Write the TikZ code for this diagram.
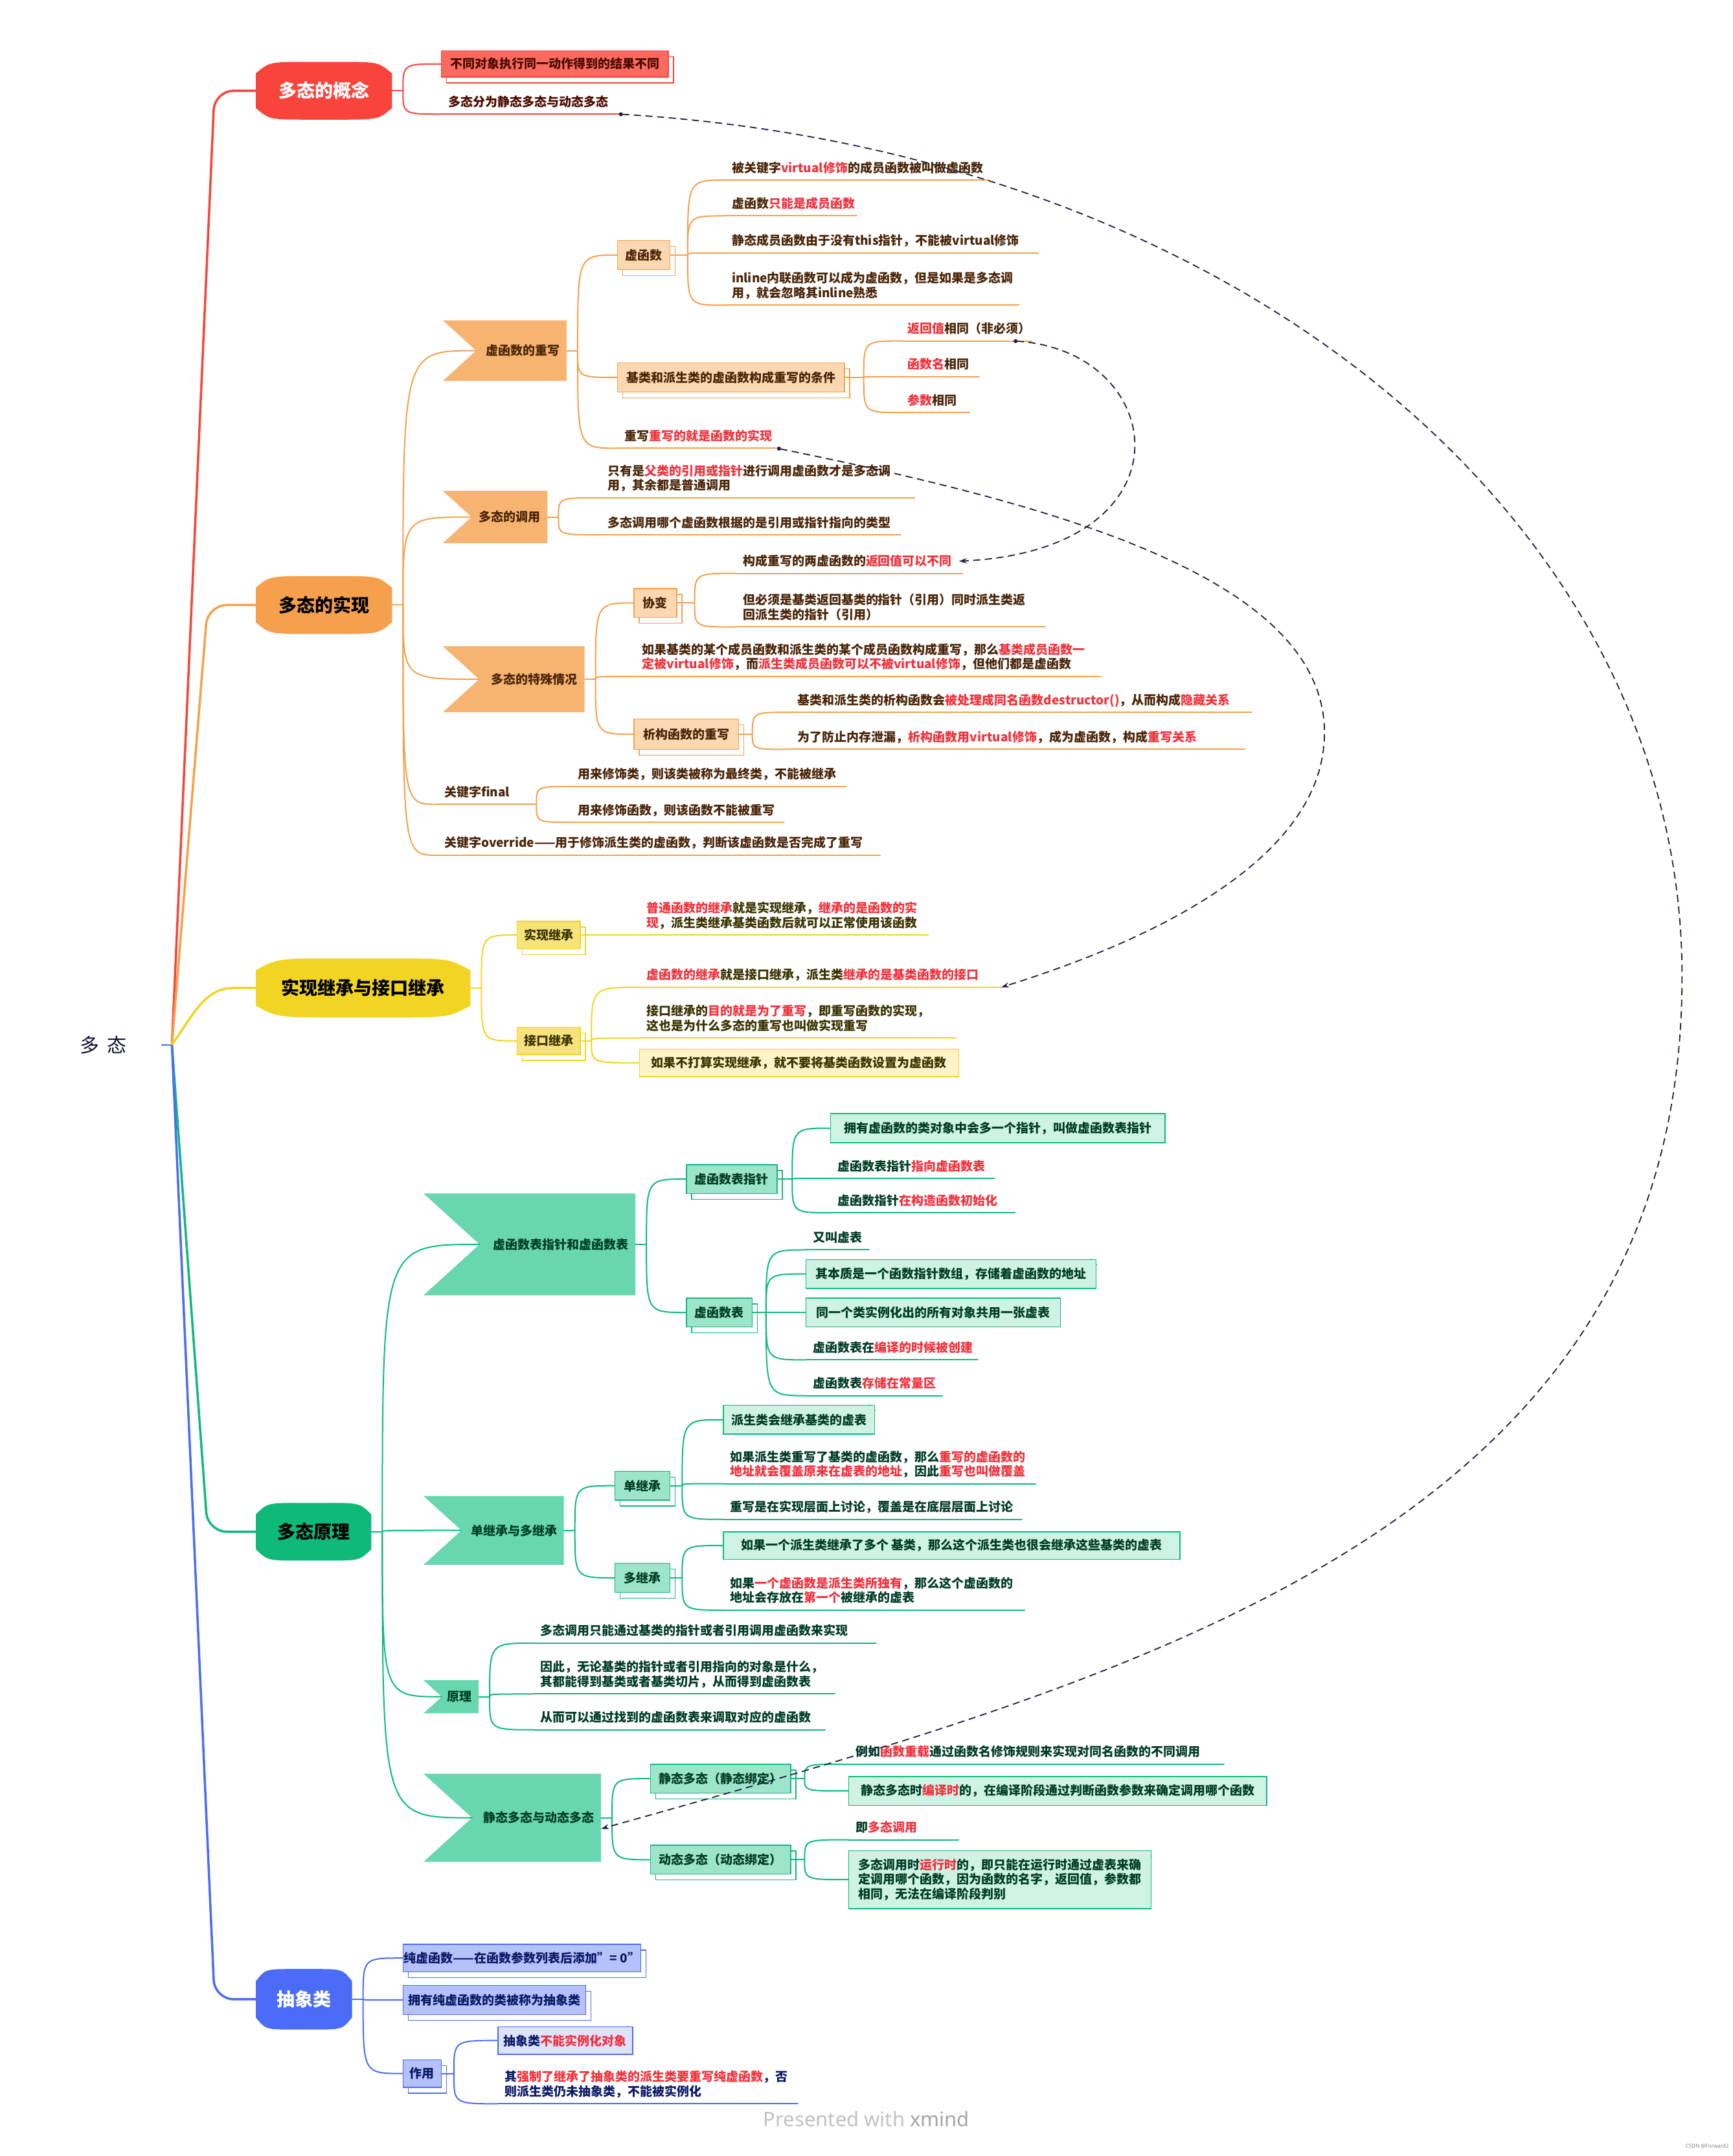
\documentclass[tikz,border=0pt]{standalone}
\usepackage{fontspec}
\setmainfont{Noto Sans CJK SC}
\newfontfamily\wmfont{Noto Sans}
\usetikzlibrary{calc,arrows.meta}
\newcommand\UU{2.1238pt}
\definecolor{cred}{HTML}{F9443B}
\definecolor{credl}{HTML}{FA6A60}
\definecolor{credt}{HTML}{4A0A00}
\definecolor{cora}{HTML}{F5A04C}
\definecolor{coraf}{HTML}{F6B470}
\definecolor{corab}{HTML}{FBD7B2}
\definecolor{corat}{HTML}{4A2508}
\definecolor{cyel}{HTML}{F2D422}
\definecolor{cyelb}{HTML}{F6E37C}
\definecolor{cyeln}{HTML}{FCF3C8}
\definecolor{cyelt}{HTML}{3B3300}
\definecolor{cgrn}{HTML}{0FB97A}
\definecolor{cgrnf}{HTML}{68D6AE}
\definecolor{cgrnb}{HTML}{9DE5CA}
\definecolor{cgrnn}{HTML}{CEF2E4}
\definecolor{cgrnt}{HTML}{003D26}
\definecolor{cblu}{HTML}{4A6CF7}
\definecolor{cblub}{HTML}{B4C1FB}
\definecolor{cblun}{HTML}{DDE3FD}
\definecolor{cblut}{HTML}{0B1A66}
\definecolor{hlred}{HTML}{F0323C}
\definecolor{cdash}{HTML}{1C2040}
\definecolor{croot}{HTML}{10122E}
\definecolor{cwm}{HTML}{C2C2C2}
\definecolor{cwmb}{HTML}{A5A5A5}
\newcommand\redt[1]{{\color{hlred}#1}}
\newcommand\cn[3]{\draw[ln=#1] (#2) .. controls (#2 |- #3) .. (#3);}
\tikzset{
 txt/.style={font=\fontsize{19}{22.5}\selectfont\bfseries},
 ut/.style={txt, anchor=south west, inner xsep=10.6pt, inner ysep=9pt, text depth=2.8pt, align=left},
 sub/.style n args={3}{txt, draw=#1, line width=1.5pt, fill=#2, text=#3, inner sep=0pt,
   preaction={draw=#1, line width=1.5pt, transform canvas={xshift=8pt,yshift=-9pt}}},
 fold/.style={append after command={\pgfextra{
   \fill[white] ($(\tikzlastnode.north east)+(-9pt,1pt)$) -- ($(\tikzlastnode.north east)+(1pt,1pt)$) -- ($(\tikzlastnode.north east)+(1pt,-9pt)$) -- cycle;
   \draw[#1, line width=1.2pt, line join=round] ($(\tikzlastnode.north east)+(-9pt,0pt)$) -- ($(\tikzlastnode.north east)+(-9pt,-9pt)$) -- ($(\tikzlastnode.north east)+(0pt,-9pt)$) -- cycle;}}},
 note/.style n args={3}{txt, draw=#1, line width=1.5pt, fill=#2, text=#3, inner sep=0pt, fold=#1},
 mainn/.style 2 args={font=\fontsize{28}{30}\selectfont\bfseries, text=#2, inner sep=0pt, fill=white,
   path picture={\fill[#1] let \p1=(path picture bounding box.north west), \p2=(path picture bounding box.south east), \n1={\x2-\x1}, \n2={\y1-\y2} in
   (\x1,{\y2+0.2*\n2}) -- (\x1,{\y1-0.2*\n2}) .. controls ({\x1+0.1*\n1},\y1) .. ({\x1+0.4*\n1},\y1) -- ({\x2-0.4*\n1},\y1) .. controls ({\x2-0.1*\n1},\y1) .. (\x2,{\y1-0.2*\n2}) -- (\x2,{\y2+0.2*\n2}) .. controls ({\x2-0.1*\n1},\y2) .. ({\x2-0.4*\n1},\y2) -- ({\x1+0.4*\n1},\y2) .. controls ({\x1+0.1*\n1},\y2) .. (\x1,{\y2+0.2*\n2}) -- cycle;}},
 flag/.style 2 args={txt, text=#2, inner sep=0pt, align=right, fill=white,
   path picture={\fill[#1] let \p1=(path picture bounding box.north west), \p2=(path picture bounding box.south east) in
   (\x1,\y1) -- (\x2,\y1) -- (\x2,\y2) -- (\x1,\y2) -- ({\x1+0.55*(\y1-\y2)},{0.5*(\y1+\y2)}) -- cycle;}},
 ln/.style={draw=#1, line width=2pt, line cap=round, line join=round},
 dashc/.style={draw=cdash, line width=1.8pt, dash pattern=on 11pt off 7pt},
}
\begin{document}
\begin{tikzpicture}[x=2.1238pt,y=-2.1238pt]
\fill[white] (0,0) rectangle (1260,1568);
\useasboundingbox (0,0) rectangle (1260,1568);

% ROOT
\node[font=\fontsize{30}{32}\selectfont, text=croot, minimum width=84*\UU, inner sep=0pt] (root) at (75,760) {多\hspace{12pt}态};
\coordinate (rt) at (125,760);

% ===== MAIN NODES =====
\node[mainn={cred}{white}, minimum width=99*\UU, minimum height=42*\UU] (c1) at (235.5,66) {多态的概念};
\node[mainn={cora}{black}, minimum width=99*\UU, minimum height=42*\UU] (c2) at (235.5,440) {多态的实现};
\node[mainn={cyel}{black}, minimum width=156*\UU, minimum height=43*\UU] (c3) at (264,718.5) {实现继承与接口继承};
\node[mainn={cgrn}{black}, minimum width=84*\UU, minimum height=42*\UU] (c4) at (228,1114) {多态原理};
\node[mainn={cblu}{white}, minimum width=70*\UU, minimum height=44*\UU] (c5) at (221,1454) {抽象类};

\draw[cblu, line width=2.5pt] (root.east) -- (rt);
\draw[cred, line width=3.5pt, rounded corners=30pt] (rt) -- (156,66) -- (c1.west);
\draw[cora, line width=3.5pt, rounded corners=30pt] (rt) -- (151,440) -- (c2.west);
\draw[cyel, line width=3.5pt] (rt) .. controls (142,735) and (150,718.5) .. (170,718.5) -- (c3.west);
\draw[cgrn, line width=3.5pt, rounded corners=30pt] (rt) -- (151,1114) -- (c4.west);
\draw[cblu, line width=3.5pt, rounded corners=30pt] (rt) -- (156,1454) -- (c5.west);

% ===== RED =====
\coordinate (f1) at (293,66);
\node[sub={cred}{credl}{credt}, minimum width=165*\UU, minimum height=19*\UU] (r1) at (403.5,46.5) {不同对象执行同一动作得到的结果不同};
\node[ut, text=credt] (r2) at (321,83) {多态分为静态多态与动态多态};
\coordinate (r2e) at ($(r2.south west)+(129,0)$);
\draw[ln=cred] (r2.south west) -- (r2e);
\draw[ln=cred] (c1.east) -- (f1);
\cn{cred}{f1}{r1.west}
\cn{cred}{f1}{r2.south west}

% ===== ORANGE =====
\coordinate (f2) at (293,440);
\node[flag={coraf}{corat}, minimum width=90*\UU, minimum height=44*\UU, text width=169.9pt] (o1) at (367,255) {虚函数的重写};
\coordinate (o1t) at ($(o1.west)+(24.2,0)$);
\node[flag={coraf}{corat}, minimum width=76*\UU, minimum height=38*\UU, text width=140.2pt] (o2) at (360,376) {多态的调用};
\coordinate (o2t) at ($(o2.west)+(20.9,0)$);
\node[flag={coraf}{corat}, minimum width=103*\UU, minimum height=48*\UU, text width=197.5pt] (o3) at (373.5,494) {多态的特殊情况};
\coordinate (o3t) at ($(o3.west)+(26.4,0)$);
\node[ut, text=corat] (o4) at (318,585) {关键字final};
\coordinate (f24) at ($(o4.south west)+(72,0)$);
\draw[ln=cora] (o4.south west) -- (f24);
\node[ut, text=corat] (o5) at (318,622) {关键字override——用于修饰派生类的虚函数，判断该虚函数是否完成了重写};
\draw[ln=cora] (o5.south west) -- ++(322,0);
\draw[ln=cora] (c2.east) -- (f2);
\cn{cora}{f2}{o1t}
\cn{cora}{f2}{o2t}
\cn{cora}{f2}{o3t}
\cn{cora}{f2}{o4.south west}
\cn{cora}{f2}{o5.south west}

% o1 children
\coordinate (f21) at (420,255);
\node[sub={cora}{corab}{corat}, minimum width=38*\UU, minimum height=21*\UU] (o11) at (468,185.5) {虚函数};
\node[sub={cora}{corab}{corat}, minimum width=165*\UU, minimum height=21*\UU] (o12) at (531.5,274.5) {基类和派生类的虚函数构成重写的条件};
\node[ut, text=corat] (o13) at (449,326) {重写\redt{重写的就是函数的实现}};
\coordinate (o13e) at ($(o13.south west)+(116,0)$);
\draw[ln=cora] (o13.south west) -- (o13e);
\draw[ln=cora] (o1.east) -- (f21);
\cn{cora}{f21}{o11.west}
\cn{cora}{f21}{o12.west}
\cn{cora}{f21}{o13.south west}

\coordinate (f211) at (500,185.5);
\node[ut, text=corat] (o111) at (527,131) {被关键字\redt{virtual修饰}的成员函数被叫做虚函数};
\draw[ln=cora] (o111.south west) -- ++(192,0);
\node[ut, text=corat] (o112) at (527,157) {虚函数\redt{只能是成员函数}};
\draw[ln=cora] (o112.south west) -- ++(96,0);
\node[ut, text=corat] (o113) at (527,184) {静态成员函数由于没有this指针，不能被virtual修饰};
\draw[ln=cora] (o113.south west) -- ++(228,0);
\node[ut, text=corat] (o114) at (527,222) {inline内联函数可以成为虚函数，但是如果是多态调\\用，就会忽略其inline熟悉};
\draw[ln=cora] (o114.south west) -- ++(214,0);
\draw[ln=cora] (o11.east) -- (f211);
\cn{cora}{f211}{o111.south west}
\cn{cora}{f211}{o112.south west}
\cn{cora}{f211}{o113.south west}
\cn{cora}{f211}{o114.south west}

\coordinate (f212) at (628,274.5);
\node[ut, text=corat] (o121) at (655,248) {\redt{返回值}相同（非必须）};
\coordinate (o121d) at ($(o121.south west)+(82,0)$);
\draw[ln=cora] (o121.south west) -- ++(95,0);
\node[ut, text=corat] (o122) at (655,274) {\redt{函数名}相同};
\draw[ln=cora] (o122.south west) -- ++(57,0);
\node[ut, text=corat] (o123) at (655,300) {\redt{参数}相同};
\draw[ln=cora] (o123.south west) -- ++(50,0);
\draw[ln=cora] (o12.east) -- (f212);
\cn{cora}{f212}{o121.south west}
\cn{cora}{f212}{o122.south west}
\cn{cora}{f212}{o123.south west}

% o2 children
\coordinate (f22) at (406,376);
\node[ut, text=corat] (o21) at (437,362) {只有是\redt{父类的引用或指针}进行调用虚函数才是多态调\\用，其余都是普通调用};
\draw[ln=cora] (o21.south west) -- ++(228,0);
\node[ut, text=corat] (o22) at (437,389) {多态调用哪个虚函数根据的是引用或指针指向的类型};
\draw[ln=cora] (o22.south west) -- ++(218,0);
\draw[ln=cora] (o2.east) -- (f22);
\cn{cora}{f22}{o21.south west}
\cn{cora}{f22}{o22.south west}

% o3 children
\coordinate (f23) at (433,494);
\node[sub={cora}{corab}{corat}, minimum width=31*\UU, minimum height=21*\UU] (o31) at (476.5,438.5) {协变};
\node[ut, text=corat] (o32) at (462,492) {如果基类的某个成员函数和派生类的某个成员函数构成重写，那么\redt{基类成员函数一}\\\redt{定被virtual修饰}，而\redt{派生类成员函数可以不被virtual修饰}，但他们都是虚函数};
\draw[ln=cora] (o32.south west) -- ++(338,0);
\node[sub={cora}{corab}{corat}, minimum width=76*\UU, minimum height=22*\UU] (o33) at (499,534) {析构函数的重写};
\draw[ln=cora] (o3.east) -- (f23);
\cn{cora}{f23}{o31.west}
\cn{cora}{f23}{o32.south west}
\cn{cora}{f23}{o33.west}

\coordinate (f231) at (505,438.5);
\node[ut, text=corat] (o311) at (535,417) {构成重写的两虚函数的\redt{返回值可以不同}};
\draw[ln=cora] (o311.south west) -- ++(165,0);
\node[ut, text=corat] (o312) at (535,456) {但必须是基类返回基类的指针（引用）同时派生类返\\回派生类的指针（引用）};
\draw[ln=cora] (o312.south west) -- ++(225,0);
\draw[ln=cora] (o31.east) -- (f231);
\cn{cora}{f231}{o311.south west}
\cn{cora}{f231}{o312.south west}

\coordinate (f233) at (547,534);
\node[ut, text=corat] (o331) at (575,518) {基类和派生类的析构函数会\redt{被处理成同名函数destructor()}，从而构成\redt{隐藏关系}};
\draw[ln=cora] (o331.south west) -- ++(335,0);
\node[ut, text=corat] (o332) at (575,545) {为了防止内存泄漏，\redt{析构函数用virtual修饰}，成为虚函数，构成\redt{重写关系}};
\draw[ln=cora] (o332.south west) -- ++(330,0);
\draw[ln=cora] (o33.east) -- (f233);
\cn{cora}{f233}{o331.south west}
\cn{cora}{f233}{o332.south west}

% final children
\node[ut, text=corat] (o41) at (415,572) {用来修饰类，则该类被称为最终类，不能被继承};
\draw[ln=cora] (o41.south west) -- ++(200,0);
\node[ut, text=corat] (o42) at (415,598) {用来修饰函数，则该函数不能被重写};
\draw[ln=cora] (o42.south west) -- ++(155,0);
\cn{cora}{f24}{o41.south west}
\cn{cora}{f24}{o42.south west}

% ===== YELLOW =====
\coordinate (f3) at (350,718.5);
\node[sub={cyel}{cyelb}{cyelt}, minimum width=46*\UU, minimum height=20*\UU] (y1) at (399,680) {实现继承};
\node[sub={cyel}{cyelb}{cyelt}, minimum width=46*\UU, minimum height=20*\UU] (y2) at (399,757) {接口继承};
\draw[ln=cyel] (c3.east) -- (f3);
\cn{cyel}{f3}{y1.west}
\cn{cyel}{f3}{y2.west}
\coordinate (f31) at (430,680);
\node[ut, text=cyelt] (y11) at (465,680) {\redt{普通函数的继承}就是实现继承，\redt{继承的是函数的实}\\\redt{现}，派生类继承基类函数后就可以正常使用该函数};
\draw[ln=cyel] (y11.south west) -- ++(210,0);
\draw[ln=cyel] (y1.east) -- (f31);
\cn{cyel}{f31}{y11.south west}
\coordinate (f32) at (430,757);
\node[ut, text=cyelt] (y21) at (465,718) {\redt{虚函数的继承}就是接口继承，派生类\redt{继承的是基类函数的接口}};
\coordinate (y21e) at ($(y21.south west)+(263,0)$);
\draw[ln=cyel] (y21.south west) -- (y21e);
\node[ut, text=cyelt] (y22) at (465,755) {接口继承的\redt{目的就是为了重写}，即重写函数的实现，\\这也是为什么多态的重写也叫做实现重写};
\draw[ln=cyel] (y22.south west) -- ++(230,0);
\node[note={cyel}{cyeln}{cyelt}, minimum width=232*\UU, minimum height=20*\UU] (y23) at (581,773) {如果不打算实现继承，就不要将基类函数设置为虚函数};
\draw[ln=cyel] (y2.east) -- (f32);
\cn{cyel}{f32}{y21.south west}
\cn{cyel}{f32}{y22.south west}
\cn{cyel}{f32}{y23.west}

% ===== GREEN =====
\coordinate (f4) at (278,1114);
\node[flag={cgrnf}{cgrnt}, minimum width=154*\UU, minimum height=74*\UU, text width=305.8pt] (g1) at (385,905) {虚函数表指针和虚函数表};
\coordinate (g1t) at ($(g1.west)+(40.7,0)$);
\node[flag={cgrnf}{cgrnt}, minimum width=102*\UU, minimum height=50*\UU, text width=195.4pt] (g2) at (359,1113) {单继承与多继承};
\coordinate (g2t) at ($(g2.west)+(27.5,0)$);
\node[flag={cgrnf}{cgrnt}, minimum width=40*\UU, minimum height=24*\UU, text width=63.7pt] (g3) at (328,1234) {原理};
\coordinate (g3t) at ($(g3.west)+(13.2,0)$);
\node[flag={cgrnf}{cgrnt}, minimum width=129*\UU, minimum height=64*\UU, text width=252.7pt] (g4) at (372.5,1322) {静态多态与动态多态};
\coordinate (g4t) at ($(g4.west)+(35.2,0)$);
\coordinate (g4in) at ($(g4.east)+(0,8)$);
\draw[ln=cgrn] (c4.east) -- (f4);
\cn{cgrn}{f4}{g1t}
\cn{cgrn}{f4}{g2t}
\cn{cgrn}{f4}{g3t}
\cn{cgrn}{f4}{g4t}

% g1
\coordinate (f41) at (470,905);
\node[sub={cgrn}{cgrnb}{cgrnt}, minimum width=66*\UU, minimum height=21*\UU] (g11) at (532,857.5) {虚函数表指针};
\node[sub={cgrn}{cgrnb}{cgrnt}, minimum width=48*\UU, minimum height=21*\UU] (g12) at (523,954.5) {虚函数表};
\draw[ln=cgrn] (g1.east) -- (f41);
\cn{cgrn}{f41}{g11.west}
\cn{cgrn}{f41}{g12.west}
\coordinate (f411) at (576,857.5);
\node[note={cgrn}{cgrnn}{cgrnt}, minimum width=243*\UU, minimum height=21*\UU] (g111) at (725.5,820.5) {拥有虚函数的类对象中会多一个指针，叫做虚函数表指针};
\node[ut, text=cgrnt] (g112) at (604,857) {虚函数表指针\redt{指向虚函数表}};
\draw[ln=cgrn] (g112.south west) -- ++(119,0);
\node[ut, text=cgrnt] (g113) at (604,882) {虚函数指针\redt{在构造函数初始化}};
\draw[ln=cgrn] (g113.south west) -- ++(134,0);
\draw[ln=cgrn] (g11.east) -- (f411);
\cn{cgrn}{f411}{g111.west}
\cn{cgrn}{f411}{g112.south west}
\cn{cgrn}{f411}{g113.south west}
\coordinate (f412) at (557,954.5);
\node[ut, text=cgrnt] (g121) at (586,909) {又叫虚表};
\draw[ln=cgrn] (g121.south west) -- ++(46,0);
\node[note={cgrn}{cgrnn}{cgrnt}, minimum width=211*\UU, minimum height=21*\UU] (g122) at (691.5,926.5) {其本质是一个函数指针数组，存储着虚函数的地址};
\node[note={cgrn}{cgrnn}{cgrnt}, minimum width=185*\UU, minimum height=21*\UU] (g123) at (678.5,954.5) {同一个类实例化出的所有对象共用一张虚表};
\node[ut, text=cgrnt] (g124) at (586,989) {虚函数表在\redt{编译的时候被创建}};
\draw[ln=cgrn] (g124.south west) -- ++(125,0);
\node[ut, text=cgrnt] (g125) at (586,1015) {虚函数表\redt{存储在常量区}};
\draw[ln=cgrn] (g125.south west) -- ++(99,0);
\draw[ln=cgrn] (g12.east) -- (f412);
\cn{cgrn}{f412}{g121.south west}
\cn{cgrn}{f412}{g122.west}
\cn{cgrn}{f412}{g123.west}
\cn{cgrn}{f412}{g124.south west}
\cn{cgrn}{f412}{g125.south west}

% g2
\coordinate (f42) at (418,1113);
\node[sub={cgrn}{cgrnb}{cgrnt}, minimum width=40*\UU, minimum height=21*\UU] (g21) at (467,1080.5) {单继承};
\node[sub={cgrn}{cgrnb}{cgrnt}, minimum width=40*\UU, minimum height=21*\UU] (g22) at (467,1147.5) {多继承};
\draw[ln=cgrn] (g2.east) -- (f42);
\cn{cgrn}{f42}{g21.west}
\cn{cgrn}{f42}{g22.west}
\coordinate (f421) at (496,1080.5);
\node[note={cgrn}{cgrnn}{cgrnt}, minimum width=110*\UU, minimum height=21*\UU] (g211) at (581,1032.5) {派生类会继承基类的虚表};
\node[ut, text=cgrnt] (g212) at (526,1079) {如果派生类重写了基类的虚函数，那么\redt{重写的虚函数的}\\\redt{地址就会覆盖原来在虚表的地址}，因此\redt{重写也叫做覆盖}};
\draw[ln=cgrn] (g212.south west) -- ++(227,0);
\node[ut, text=cgrnt] (g213) at (526,1105) {重写是在实现层面上讨论，覆盖是在底层层面上讨论};
\draw[ln=cgrn] (g213.south west) -- ++(217,0);
\draw[ln=cgrn] (g21.east) -- (f421);
\cn{cgrn}{f421}{g211.west}
\cn{cgrn}{f421}{g212.south west}
\cn{cgrn}{f421}{g213.south west}
\coordinate (f422) at (496,1147.5);
\node[note={cgrn}{cgrnn}{cgrnt}, minimum width=332*\UU, minimum height=20*\UU] (g221) at (692,1124) {如果一个派生类继承了多个 基类，那么这个派生类也很会继承这些基类的虚表};
\node[ut, text=cgrnt] (g222) at (526,1171) {如果\redt{一个虚函数是派生类所独有}，那么这个虚函数的\\地址会存放在\redt{第一个}被继承的虚表};
\draw[ln=cgrn] (g222.south west) -- ++(219,0);
\draw[ln=cgrn] (g22.east) -- (f422);
\cn{cgrn}{f422}{g221.west}
\cn{cgrn}{f422}{g222.south west}

% g3
\coordinate (f43) at (356,1234);
\node[ut, text=cgrnt] (g31) at (388,1195) {多态调用只能通过基类的指针或者引用调用虚函数来实现};
\draw[ln=cgrn] (g31.south west) -- ++(249,0);
\node[ut, text=cgrnt] (g32) at (388,1232) {因此，无论基类的指针或者引用指向的对象是什么，\\其都能得到基类或者基类切片，从而得到虚函数表};
\draw[ln=cgrn] (g32.south west) -- ++(219,0);
\node[ut, text=cgrnt] (g33) at (388,1258) {从而可以通过找到的虚函数表来调取对应的虚函数};
\draw[ln=cgrn] (g33.south west) -- ++(212,0);
\draw[ln=cgrn] (g3.east) -- (f43);
\cn{cgrn}{f43}{g31.south west}
\cn{cgrn}{f43}{g32.south west}
\cn{cgrn}{f43}{g33.south west}

% g4
\coordinate (f44) at (445,1322);
\node[sub={cgrn}{cgrnb}{cgrnt}, minimum width=102*\UU, minimum height=21*\UU] (g41) at (524,1293.5) {静态多态（静态绑定）};
\node[sub={cgrn}{cgrnb}{cgrnt}, minimum width=102*\UU, minimum height=21*\UU] (g42) at (524,1352.5) {动态多态（动态绑定）};
\draw[ln=cgrn] (g4.east) -- (f44);
\cn{cgrn}{f44}{g41.west}
\cn{cgrn}{f44}{g42.west}
\coordinate (f441) at (585,1293.5);
\node[ut, text=cgrnt] (g411) at (617,1283) {例如\redt{函数重载}通过函数名修饰规则来实现对同名函数的不同调用};
\draw[ln=cgrn] (g411.south west) -- ++(273,0);
\node[note={cgrn}{cgrnn}{cgrnt}, minimum width=304*\UU, minimum height=21*\UU] (g412) at (769,1302.5) {静态多态时\redt{编译时}的，在编译阶段通过判断函数参数来确定调用哪个函数};
\draw[ln=cgrn] (g41.east) -- (f441);
\cn{cgrn}{f441}{g411.south west}
\cn{cgrn}{f441}{g412.west}
\coordinate (f442) at (585,1352.5);
\node[ut, text=cgrnt] (g421) at (617,1338) {即\redt{多态调用}};
\draw[ln=cgrn] (g421.south west) -- ++(80,0);
\node[note={cgrn}{cgrnn}{cgrnt}, minimum width=220*\UU, minimum height=42*\UU, align=left] (g422) at (727,1367) {多态调用时\redt{运行时}的，即只能在运行时通过虚表来确\\定调用哪个函数，因为函数的名字，返回值，参数都\\相同，无法在编译阶段判别};
\draw[ln=cgrn] (g42.east) -- (f442);
\cn{cgrn}{f442}{g421.south west}
\cn{cgrn}{f442}{g422.west}

% ===== BLUE =====
\coordinate (f5) at (264,1454);
\node[sub={cblu}{cblub}{cblut}, minimum width=173*\UU, minimum height=20*\UU] (b1) at (379.5,1424) {纯虚函数——在函数参数列表后添加{\char34}= 0{\char34}};
\node[sub={cblu}{cblub}{cblut}, minimum width=133*\UU, minimum height=21*\UU] (b2) at (359.5,1454.5) {拥有纯虚函数的类被称为抽象类};
\node[sub={cblu}{cblub}{cblut}, minimum width=28*\UU, minimum height=20*\UU] (b3) at (307,1508) {作用};
\draw[ln=cblu] (c5.east) -- (f5);
\cn{cblu}{f5}{b1.west}
\cn{cblu}{f5}{b2.west}
\cn{cblu}{f5}{b3.west}
\coordinate (f51) at (330,1508);
\node[note={cblu}{cblun}{cblut}, minimum width=98*\UU, minimum height=20*\UU] (b31) at (411,1484) {抽象类\redt{不能实例化对象}};
\node[ut, text=cblut] (b32) at (362,1530) {其\redt{强制了继承了抽象类的派生类要重写纯虚函数}，否\\则派生类仍未抽象类，不能被实例化};
\draw[ln=cblu] (b32.south west) -- ++(218,0);
\draw[ln=cblu] (b3.east) -- (f51);
\cn{cblu}{f51}{b31.west}
\cn{cblu}{f51}{b32.south west}

% ===== DASHED RELATIONS =====
\draw[dashc, {Circle[length=6pt]}-{Stealth[length=12pt,width=8pt]}] (r2e) .. controls (900,110) and (1223,380) .. (1223,710) .. controls (1223,1110) and (837,1218) .. (g4in);
\draw[dashc, {Circle[length=6pt]}-{Stealth[length=12pt,width=8pt]}] (o121d) .. controls (850,255) and (870,400) .. (o311.east);
\draw[dashc, {Circle[length=6pt]}-{Stealth[length=12pt,width=8pt]}] (o13e) .. controls (767,367) and (963,420) .. (963,533) .. controls (963,620) and (850,680) .. (y21e);

% watermark
\node[font=\wmfont\fontsize{31}{33}\selectfont, text=cwm, inner sep=0pt] (wm) at (630,1541) {Presented with \textbf{\color{cwmb}xmind}};
\node[font=\wmfont\fontsize{8}{9}\selectfont, text=gray, anchor=east, inner sep=0pt] (csdn) at (1257,1561) {CSDN @Forward2};
\end{tikzpicture}
\end{document}
